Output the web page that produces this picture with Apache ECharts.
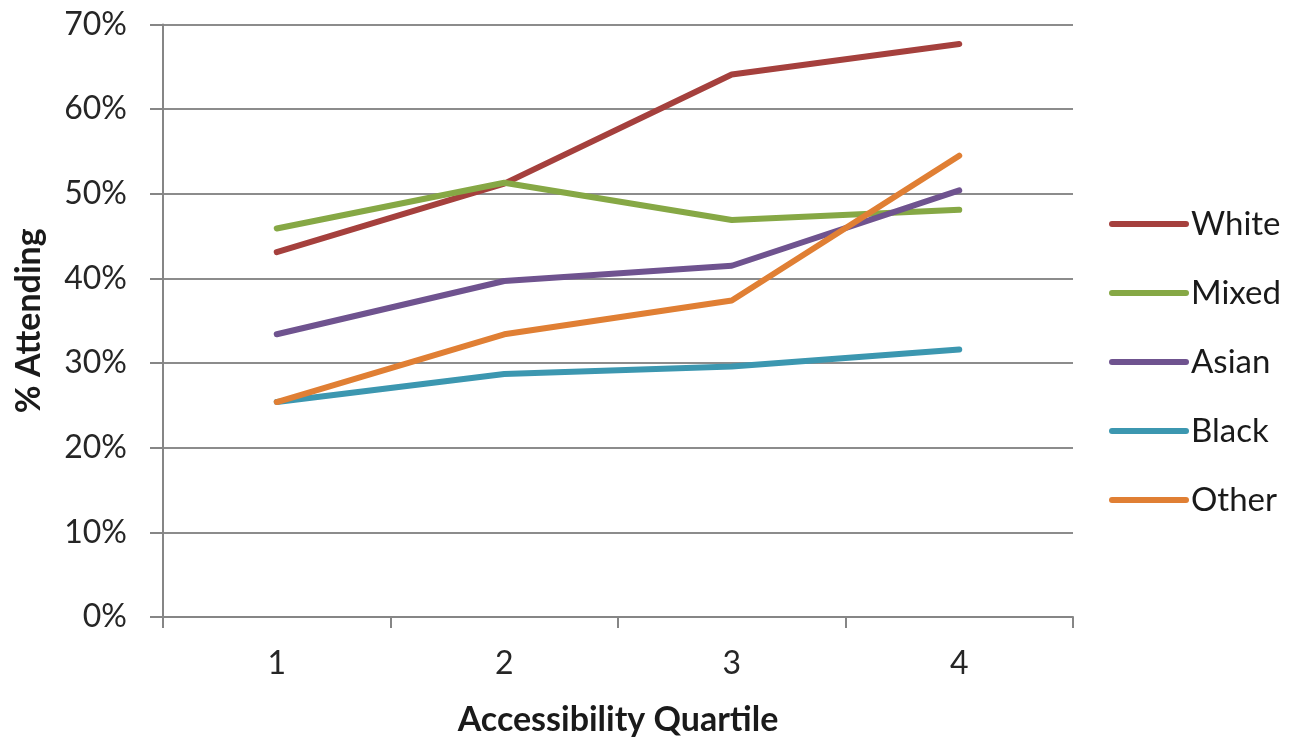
<!DOCTYPE html>
<html>
<head>
<meta charset="utf-8">
<script src="https://cdn.jsdelivr.net/npm/echarts@6/dist/echarts.min.js"></script>
<style>html,body{margin:0;padding:0;background:#fff}#c{width:1289px;height:741px}</style>
</head>
<body>
<div id="c"></div>
<script>
const categories = ['1', '2', '3', '4'];
const white = [43.1, 51.2, 64.1, 67.7];
const mixed = [45.9, 51.3, 46.9, 48.1];
const asian = [33.4, 39.7, 41.5, 50.4];
const black = [25.4, 28.7, 29.6, 31.6];
const other = [25.4, 33.4, 37.4, 54.5];
const seriesNames = ['White', 'Mixed', 'Asian', 'Black', 'Other'];
const seriesData = [white, mixed, asian, black, other];
const colors = ['#A5403D', '#86A845', '#6F538F', '#3C97B0', '#E07F34'];

const font = 'Lato, "Open Sans", sans-serif';
const chart = echarts.init(document.getElementById('c'));
chart.setOption({
  animation: false,
  grid: { left: 163, right: 216, top: 24.5, bottom: 124, containLabel: false, outerBoundsMode: 'none' },
  legend: {
    orient: 'vertical', left: 1104, top: 202,
    itemWidth: 80, itemHeight: 6, itemGap: 35,
    icon: 'path://M3,0 L77,0 A3,3 0 0 1 77,6 L3,6 A3,3 0 0 1 3,0 Z',
    textStyle: { fontFamily: font, fontSize: 33, color: '#1a1a1a', lineHeight: 34, padding: [0, 0, 0, -3] },
    data: seriesNames
  },
  xAxis: {
    type: 'category', data: categories, boundaryGap: true,
    name: 'Accessibility Quartile', nameLocation: 'middle', nameGap: 86,
    nameTextStyle: { fontFamily: font, fontSize: 34, fontWeight: 'bold', color: '#1a1a1a' },
    axisLine: { lineStyle: { color: '#868686', width: 2 } },
    axisTick: { show: true, length: 11, lineStyle: { color: '#868686', width: 2 } },
    axisLabel: { fontFamily: font, fontSize: 32, color: '#262626', margin: 31 }
  },
  yAxis: {
    type: 'value', min: 0, max: 70, interval: 10,
    name: '% Attending', nameLocation: 'middle', nameGap: 117, nameRotate: 90,
    nameTextStyle: { fontFamily: font, fontSize: 34, fontWeight: 'bold', color: '#1a1a1a' },
    axisLine: { show: true, lineStyle: { color: '#868686', width: 2 } },
    axisTick: { show: true, length: 13, lineStyle: { color: '#868686', width: 2 } },
    splitLine: { lineStyle: { color: '#8c8c8c', width: 2 } },
    axisLabel: { fontFamily: font, fontSize: 32, color: '#262626', margin: 36, formatter: '{value}%' }
  },
  series: seriesNames.map((n, i) => ({
    name: n, type: 'line', data: seriesData[i], symbol: 'none',
    itemStyle: { color: colors[i] },
    lineStyle: { color: colors[i], width: 6, cap: 'round', join: 'round' }
  }))
});
</script>
</body>
</html>
